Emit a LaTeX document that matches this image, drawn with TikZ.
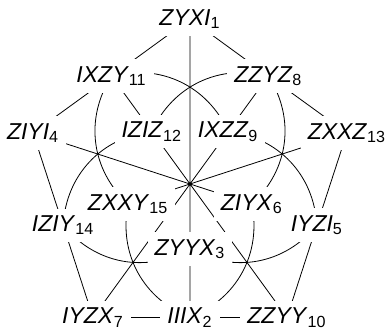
\documentclass[tikz,border=0pt]{standalone}
\usepackage{fontspec}
\setmainfont{Liberation Sans}
\usepackage{tikz}
\usetikzlibrary{backgrounds}
\newcommand{\op}[2]{\textit{#1}\textsubscript{#2}}

\begin{document}
\begin{tikzpicture}[line width=0.5pt,
    pauli/.style={font=\fontsize{11.5}{13}\selectfont,fill=white,inner sep=3.5pt}]
    \useasboundingbox (-95pt,-72pt) rectangle (99pt,92pt);

    \node[pauli] (zyxi) at (90:82.5pt) {\op{ZYXI}{1}};
    \node[pauli] (zxxz) at (18:82.5pt) {\op{ZXXZ}{13}};
    \node[pauli] (zzyy) at (-54:82.5pt) {\op{ZZYY}{10}};
    \node[pauli] (iyzx) at (234:82.5pt) {\op{IYZX}{7}};
    \node[pauli] (ziyi) at (162:82.5pt) {\op{ZIYI}{4}};

    \node[pauli] (zzyz) at (54:66.7pt) {\op{ZZYZ}{8}};
    \node[pauli] (iyzi) at (-18:66.7pt) {\op{IYZI}{5}};
    \node[pauli] (iiix) at (-90:66.7pt) {\op{IIIX}{2}};
    \node[pauli] (iziy) at (198:66.7pt) {\op{IZIY}{14}};
    \node[pauli] (ixzy) at (126:66.7pt) {\op{IXZY}{11}};

    \node[pauli] (ixzz) at (54:32.5pt) {\op{IXZZ}{9}};
    \node[pauli] (ziyx) at (-18:32.5pt) {\op{ZIYX}{6}};
    \node[pauli] (zyyx) at (-90:32.5pt) {\op{ZYYX}{3}};
    \node[pauli] (zxxy) at (198:32.5pt) {\op{ZXXY}{15}};
    \node[pauli] (iziz) at (126:32.5pt) {\op{IZIZ}{12}};

    \begin{pgfonlayer}{background}
    \draw (zyxi.center)--(zzyz.center)--(zxxz.center)--(iyzi.center)--(zzyy.center)
        --(iiix.center)--(iyzx.center)--(iziy.center)--(ziyi.center)--(ixzy.center)--cycle;
    \draw (zyxi.center)--(zyyx.center) (zxxz.center)--(zxxy.center) (zzyy.center)--(iziz.center)
        (iyzx.center)--(ixzz.center) (ziyi.center)--(ziyx.center);
    \draw (ixzy.center)--(iziz.center) (zzyz.center)--(ixzz.center) (iiix.center)--(zyyx.center);

    \draw (ixzy.center) to[bend left=40] (ixzz.center);
    \draw (ixzy.center) to[bend right=40] (zxxy.center);
    \draw (zzyz.center) to[bend left=40] (ziyx.center);
    \draw (zzyz.center) to[bend right=40] (iziz.center);
    \draw (iziy.center) to[bend left=40] (iziz.center);
    \draw (iziy.center) to[bend right=40] (zyyx.center);
    \draw (iiix.center) to[bend left=40] (zxxy.center);
    \draw (iiix.center) to[bend right=40] (ziyx.center);
    \draw (iyzi.center) to[bend left=40] (zyyx.center);
    \draw (iyzi.center) to[bend right=40] (ixzz.center);
    \end{pgfonlayer}
\end{tikzpicture}
\end{document}
